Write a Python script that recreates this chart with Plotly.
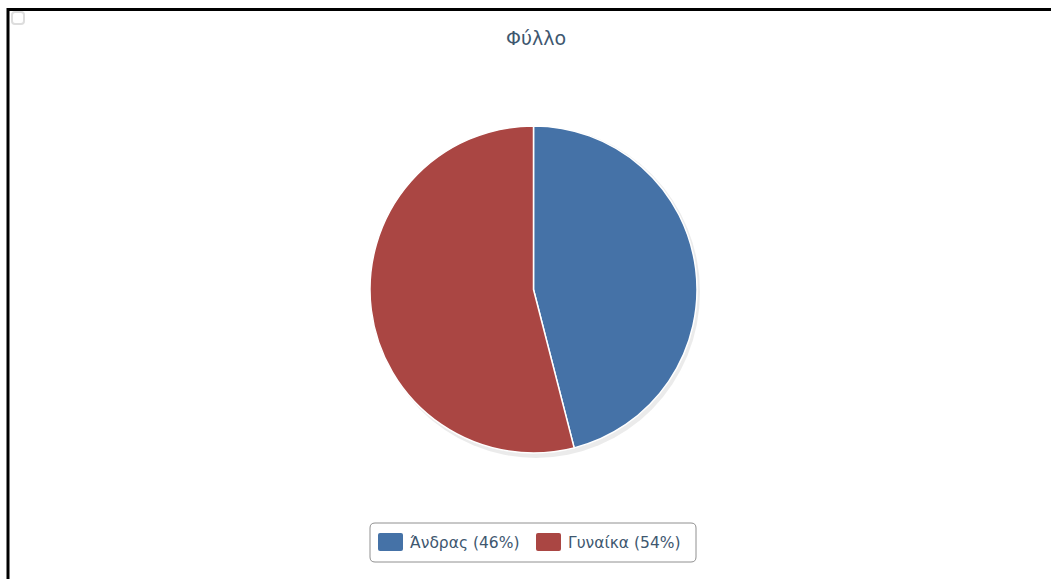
import plotly.graph_objects as go

title_text = "Φύλλο"
categories = ["Άνδρας", "Γυναίκα"]
values = [46, 54]
colors = ["#4572A7", "#AA4643"]

W, H = 1051, 579
FONT = "DejaVu Sans, Liberation Sans, Arial, sans-serif"

total = sum(values)
legend_labels = [f"{c} ({round(100 * v / total)}%)" for c, v in zip(categories, values)]

fig = go.Figure()
fig.add_trace(go.Pie(
    labels=legend_labels,
    values=values,
    sort=False,
    direction="clockwise",
    rotation=0,
    marker=dict(colors=colors, line=dict(color="#FFFFFF", width=1.5)),
    textinfo="none",
    hoverinfo="label+percent",
    showlegend=False,
    domain=dict(x=[370 / W, 697 / W], y=[1 - 455 / H, 1 - 124 / H]),
))


def px(x):
    return x / W


def py(y):
    return 1 - y / H


def rounded_rect(x0, y0, x1, y1, r):
    # pixel coords (top-left origin) -> paper path
    pts = [
        f"M {px(x0 + r)},{py(y0)}",
        f"L {px(x1 - r)},{py(y0)}",
        f"Q {px(x1)},{py(y0)} {px(x1)},{py(y0 + r)}",
        f"L {px(x1)},{py(y1 - r)}",
        f"Q {px(x1)},{py(y1)} {px(x1 - r)},{py(y1)}",
        f"L {px(x0 + r)},{py(y1)}",
        f"Q {px(x0)},{py(y1)} {px(x0)},{py(y1 - r)}",
        f"L {px(x0)},{py(y0 + r)}",
        f"Q {px(x0)},{py(y0)} {px(x0 + r)},{py(y0)} Z",
    ]
    return " ".join(pts)


shapes = [
    # frame lines (top and left)
    dict(type="line", xref="paper", yref="paper", x0=px(8), x1=1, y0=py(9.5), y1=py(9.5),
         line=dict(color="#000000", width=3)),
    dict(type="line", xref="paper", yref="paper", x0=px(8), x1=px(8), y0=0, y1=py(8),
         line=dict(color="#000000", width=3)),
    # faint corner icon
    dict(type="path", xref="paper", yref="paper", path=rounded_rect(12, 12, 24, 24, 3),
         line=dict(color="#DDDDDD", width=2)),
    # pie shadow
    dict(type="circle", xref="paper", yref="paper", layer="below",
         x0=px(372), x1=px(700), y0=py(458), y1=py(126),
         fillcolor="rgba(0,0,0,0.08)", line=dict(width=0)),
    # legend box
    dict(type="path", xref="paper", yref="paper", path=rounded_rect(370, 523, 696, 562, 5),
         line=dict(color="#909090", width=1), fillcolor="#FFFFFF"),
]

annotations = [dict(text=title_text, xref="paper", yref="paper", x=px(536), y=py(38),
                    xanchor="center", yanchor="middle", showarrow=False,
                    font=dict(family=FONT, size=19, color="#3E576F"))]

# manual legend items
sym_x = [378, 536]
text_x = [408, 566]
for i, lab in enumerate(legend_labels):
    shapes.append(dict(type="path", xref="paper", yref="paper",
                       path=rounded_rect(sym_x[i], 533, sym_x[i] + 25, 551, 2),
                       line=dict(width=0), fillcolor=colors[i]))
    annotations.append(dict(text=lab, xref="paper", yref="paper", x=px(text_x[i]), y=py(543),
                            xanchor="left", yanchor="middle", showarrow=False,
                            font=dict(family=FONT, size=15.5, color="#3E576F")))

fig.update_layout(
    width=W, height=H,
    margin=dict(l=0, r=0, t=0, b=0),
    paper_bgcolor="#FFFFFF",
    plot_bgcolor="#FFFFFF",
    font=dict(family=FONT, color="#3E576F"),
    shapes=shapes,
    annotations=annotations,
    showlegend=False,
)

fig.write_html("out.html")
